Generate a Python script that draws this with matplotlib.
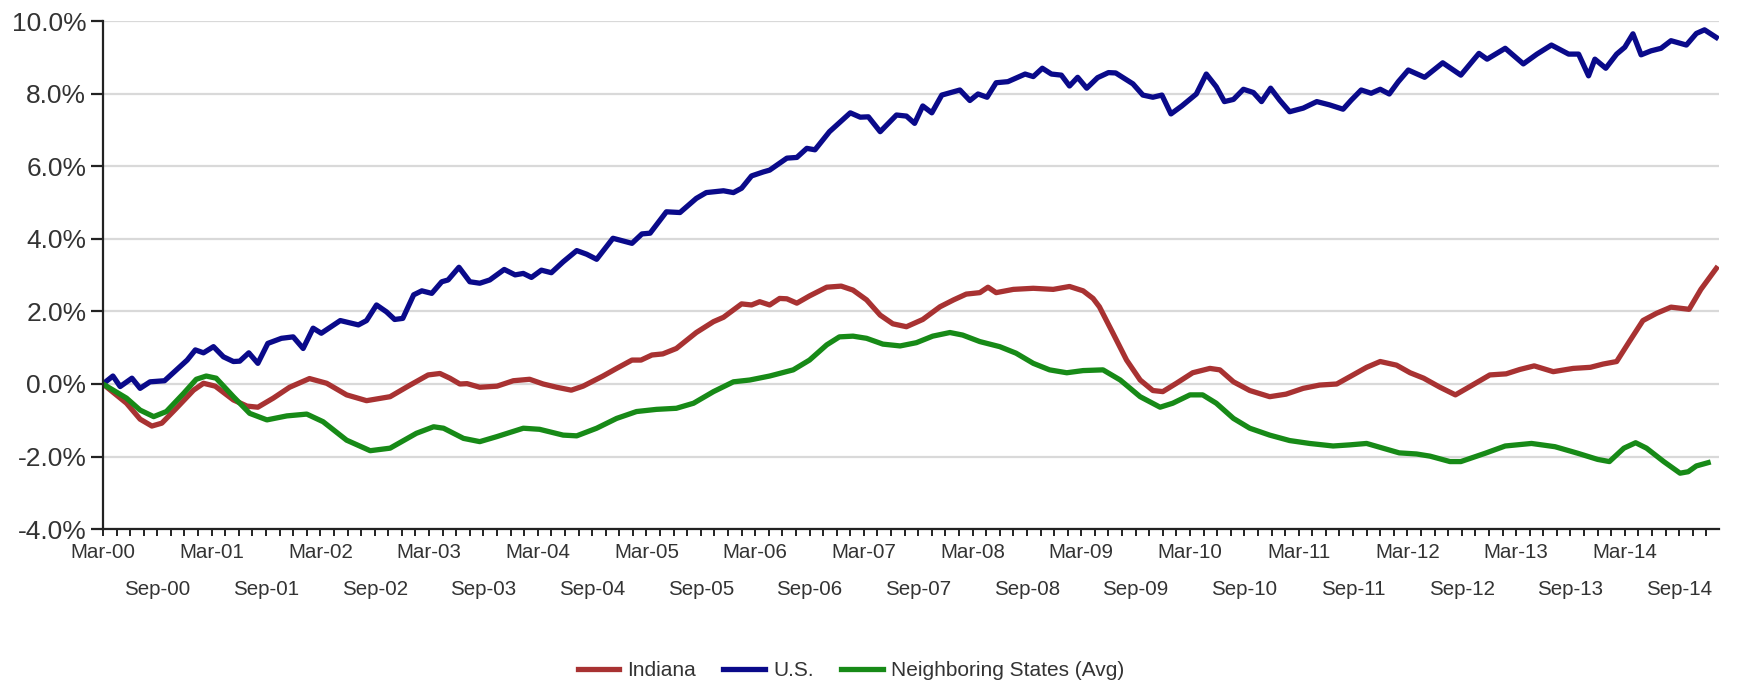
import numpy as np
import matplotlib.pyplot as plt
from matplotlib.ticker import FuncFormatter

# months since Mar-2000, cumulative change in %
us_m = [0, 1.1, 1.9, 3.2, 4.1, 5.2, 6.8, 8.5, 9.3, 10.2, 11.1, 12.2, 13.3, 14.4, 15.1, 16.1, 17.1,
        18.2, 19.7, 21.0, 22.1, 23.2, 24.1, 26.2, 28.2, 29.1, 30.2, 31.3, 32.2, 33.1, 34.3, 35.2,
        36.3, 37.4, 38.1, 39.3, 40.5, 41.6, 42.7, 44.3, 45.5, 46.4, 47.3, 48.4, 49.5, 50.8, 52.3,
        53.4, 54.5, 56.3, 58.4, 59.5, 60.4, 62.2, 63.7, 65.5, 66.6, 68.5, 69.6, 70.5, 71.6, 72.9,
        73.6, 75.5, 76.6, 77.7, 78.6, 80.2, 82.5, 83.6, 84.5, 85.8, 87.6, 88.7, 89.6, 90.5, 91.5,
        92.6, 94.6, 95.7, 96.6, 97.6, 98.6, 99.9, 101.8, 102.7, 103.7, 104.7, 105.8, 106.7, 107.6,
        108.6, 109.8, 111.0, 111.8, 113.7, 114.8, 115.9, 116.9, 117.9, 119.1, 120.7, 121.8, 122.9,
        123.8, 124.8, 125.9, 127.0, 127.9, 128.9, 129.9, 131.0, 132.5, 134.0, 135.4, 136.9, 137.8,
        138.9, 140.0, 141.0, 142.0, 143.0, 144.1, 145.9, 147.9, 149.9, 151.9, 152.8, 154.8, 156.8,
        158.3, 159.9, 161.8, 162.9, 164.0, 164.7, 165.9, 167.1, 168.0, 168.9, 169.8, 170.9, 172.0,
        173.1, 174.8, 175.9, 176.8, 178.1]
us_v = [0.0, 0.22, -0.07, 0.16, -0.12, 0.06, 0.09, 0.48, 0.66, 0.94, 0.86, 1.03, 0.75, 0.62, 0.63, 0.86, 0.57,
        1.12, 1.26, 1.30, 0.98, 1.54, 1.40, 1.75, 1.63, 1.75, 2.18, 1.99, 1.78, 1.81, 2.46, 2.57,
        2.50, 2.82, 2.87, 3.22, 2.82, 2.78, 2.87, 3.16, 3.01, 3.05, 2.94, 3.14, 3.07, 3.37, 3.68,
        3.58, 3.44, 4.02, 3.88, 4.14, 4.16, 4.75, 4.73, 5.12, 5.28, 5.33, 5.28, 5.40, 5.74, 5.85,
        5.90, 6.23, 6.25, 6.50, 6.46, 6.96, 7.48, 7.36, 7.37, 6.96, 7.42, 7.39, 7.19, 7.67, 7.48,
        7.97, 8.11, 7.82, 8.00, 7.91, 8.31, 8.34, 8.55, 8.48, 8.71, 8.55, 8.52, 8.22, 8.46,
        8.16, 8.45, 8.59, 8.58, 8.28, 7.97, 7.91, 7.97, 7.45, 7.67, 8.00, 8.55, 8.20,
        7.79, 7.85, 8.13, 8.04, 7.79, 8.16, 7.83, 7.51, 7.61, 7.79, 7.70, 7.58, 7.83,
        8.11, 8.02, 8.13, 8.00, 8.34, 8.66, 8.46, 8.86, 8.52, 9.12, 8.96, 9.26, 8.83,
        9.10, 9.35, 9.10, 9.10, 8.50, 8.96, 8.71, 9.10, 9.29, 9.66, 9.08, 9.19, 9.26,
        9.47, 9.35, 9.67, 9.77, 9.56]

in_m = [0, 2.6, 4.1, 5.4, 6.5, 8.1, 10.0, 11.1, 12.4, 14.4, 15.9, 17.1, 18.8, 20.6, 22.8, 24.7, 26.9,
        29.1, 31.7, 33.9, 35.9, 37.2, 38.3, 39.4, 40.2, 41.6, 43.5, 45.3, 47.1, 48.6, 50.1, 51.7,
        53.0, 55.2, 56.7, 58.4, 59.4, 60.6, 61.8, 63.3, 65.5, 67.4, 68.5, 70.5, 71.6, 72.5, 73.6,
        74.7, 75.5, 76.6, 78.0, 79.9, 81.5, 82.8, 84.3, 85.8, 87.2, 88.7, 90.5, 92.4, 93.9, 95.3,
        96.8, 97.7, 98.6, 100.5, 102.7, 104.9, 106.7, 108.2, 109.3, 110.0, 111.5, 113.0, 114.5,
        115.9, 117.0, 118.5, 120.3, 122.2, 123.3, 124.8, 126.6, 128.8, 130.6, 132.5, 134.3, 136.2,
        138.0, 139.5, 141.0, 142.8, 144.3, 145.8, 147.6, 149.3, 150.9, 153.1, 154.9, 156.4, 158.0,
        160.1, 162.3, 164.2, 165.6, 167.1, 168.5, 170.0, 171.5, 173.1, 175.1, 176.4, 178.1]
in_v = [0.0, -0.53, -0.97, -1.16, -1.08, -0.67, -0.17, 0.02, -0.06, -0.44, -0.61, -0.64, -0.39, -0.09, 0.15, 0.02, -0.30,
        -0.46, -0.35, -0.03, 0.25, 0.29, 0.16, 0.0, 0.01, -0.09, -0.06, 0.09, 0.13, 0.0, -0.09, -0.17,
        -0.06, 0.22, 0.43, 0.66, 0.66, 0.80, 0.83, 0.98, 1.42, 1.72, 1.84, 2.21, 2.18, 2.27, 2.18,
        2.36, 2.35, 2.23, 2.43, 2.67, 2.70, 2.59, 2.32, 1.90, 1.66, 1.58, 1.78, 2.13, 2.32, 2.48,
        2.52, 2.67, 2.52, 2.61, 2.64, 2.61, 2.69, 2.57, 2.36, 2.13, 1.40, 0.66, 0.11,
        -0.18, -0.21, 0.02, 0.31, 0.43, 0.39, 0.06, -0.18, -0.35, -0.28, -0.12, -0.03, 0.0,
        0.25, 0.46, 0.62, 0.52, 0.31, 0.16, -0.09, -0.30, -0.07, 0.25, 0.28, 0.40, 0.50,
        0.34, 0.43, 0.46, 0.55, 0.62, 1.17, 1.75, 1.95, 2.12, 2.06, 2.61, 3.19]

nb_m = [0, 2.6, 4.1, 5.6, 7.0, 8.9, 10.3, 11.4, 12.5, 14.4, 16.2, 18.1, 20.3, 22.5, 24.3, 26.9, 29.5,
        31.7, 34.6, 36.5, 37.6, 39.8, 41.6, 43.5, 46.4, 48.2, 50.8, 52.3, 54.5, 56.7, 58.9, 61.1,
        63.3, 65.2, 67.4, 69.6, 71.4, 73.6, 76.2, 78.0, 79.9, 81.3, 82.8, 84.3, 86.1, 88.0, 89.8,
        91.6, 93.5, 94.9, 96.8, 99.0, 100.8, 102.7, 104.5, 106.4, 108.2, 110.4, 112.3, 114.5, 116.7,
        118.1, 120.0, 121.4, 122.9, 124.8, 126.6, 128.8, 131.0, 133.2, 135.8, 137.6, 139.5, 141.3,
        143.1, 145.0, 146.5, 148.7, 149.9, 152.6, 154.8, 157.7, 160.3, 162.8, 165.0, 166.3, 167.9,
        169.2, 170.4, 172.3, 174.1, 175.0, 175.9, 177.2]
nb_v = [0.0, -0.39, -0.72, -0.90, -0.76, -0.26, 0.13, 0.22, 0.16, -0.35, -0.81, -0.99, -0.88, -0.83, -1.04, -1.55, -1.84,
        -1.77, -1.36, -1.18, -1.22, -1.50, -1.59, -1.45, -1.22, -1.25, -1.41, -1.43, -1.22, -0.95, -0.76, -0.70,
        -0.67, -0.53, -0.21, 0.06, 0.11, 0.22, 0.39, 0.66, 1.08, 1.30, 1.32, 1.26, 1.10, 1.05, 1.14,
        1.32, 1.42, 1.35, 1.17, 1.03, 0.85, 0.57, 0.39, 0.31, 0.37, 0.39, 0.11, -0.35, -0.64,
        -0.53, -0.30, -0.30, -0.53, -0.95, -1.22, -1.41, -1.56, -1.64, -1.71, -1.68, -1.64, -1.77,
        -1.90, -1.93, -1.99, -2.14, -2.14, -1.91, -1.71, -1.64, -1.73, -1.91, -2.08, -2.14, -1.77,
        -1.62, -1.77, -2.14, -2.46, -2.42, -2.26, -2.17]

years = list(range(0, 15))
mar_labels = ["Mar-%02d" % y for y in years]
sep_labels = ["Sep-%02d" % y for y in years]

plt.rcParams['font.family'] = ['Liberation Sans', 'DejaVu Sans']
txt = '#333333'

fig = plt.figure(figsize=(17.42, 6.84), dpi=100)
ax = fig.add_axes([0.0591, 0.2266, 0.9277, 0.742])

ax.plot(in_m, in_v, color='#a83232', lw=3.8, label='Indiana', solid_joinstyle='round')
ax.plot(us_m, us_v, color='#0a0a8a', lw=3.8, label='U.S.', solid_joinstyle='round')
ax.plot(nb_m, nb_v, color='#178a17', lw=3.8, label='Neighboring States (Avg)', solid_joinstyle='round')

ax.set_ylim(-4, 10)
ax.set_xlim(0, 178.4)
ax.set_yticks(np.arange(-4, 10.1, 2))
ax.yaxis.set_major_formatter(FuncFormatter(lambda v, p: "%.1f%%" % v))
ax.grid(axis='y', color='#d9d9d9', lw=1.6)
ax.set_axisbelow(True)
for s in ['top', 'right']:
    ax.spines[s].set_visible(False)
for s in ['left', 'bottom']:
    ax.spines[s].set_linewidth(1.6)
    ax.spines[s].set_color('#222222')

ax.tick_params(axis='y', length=9, width=1.6, color='#222222', labelsize=19, labelcolor=txt, pad=3)

mar_pos = [12 * y for y in years]
sep_pos = [12 * y + 6 for y in years]
ax.set_xticks(mar_pos)
ax.set_xticklabels(mar_labels)
ax.set_xticks(np.arange(0, 178, 1.5), minor=True)
ax.tick_params(axis='x', which='both', length=5, width=1.4, color='#222222')
ax.tick_params(axis='x', which='major', labelsize=14.8, labelcolor=txt, pad=5)

sec = ax.secondary_xaxis('bottom')
sec.set_xticks(sep_pos)
sec.set_xticklabels(sep_labels)
sec.spines['bottom'].set_visible(False)
sec.tick_params(axis='x', length=0, labelsize=14.8, labelcolor=txt, pad=37)

leg = fig.legend(loc='center', bbox_to_anchor=(0.4885, 0.02), ncol=3, frameon=False,
                 fontsize=15, handlelength=2.0, columnspacing=1.3, handletextpad=0.4)
for t in leg.get_texts():
    t.set_color(txt)

fig.savefig("out.png", dpi=100)
